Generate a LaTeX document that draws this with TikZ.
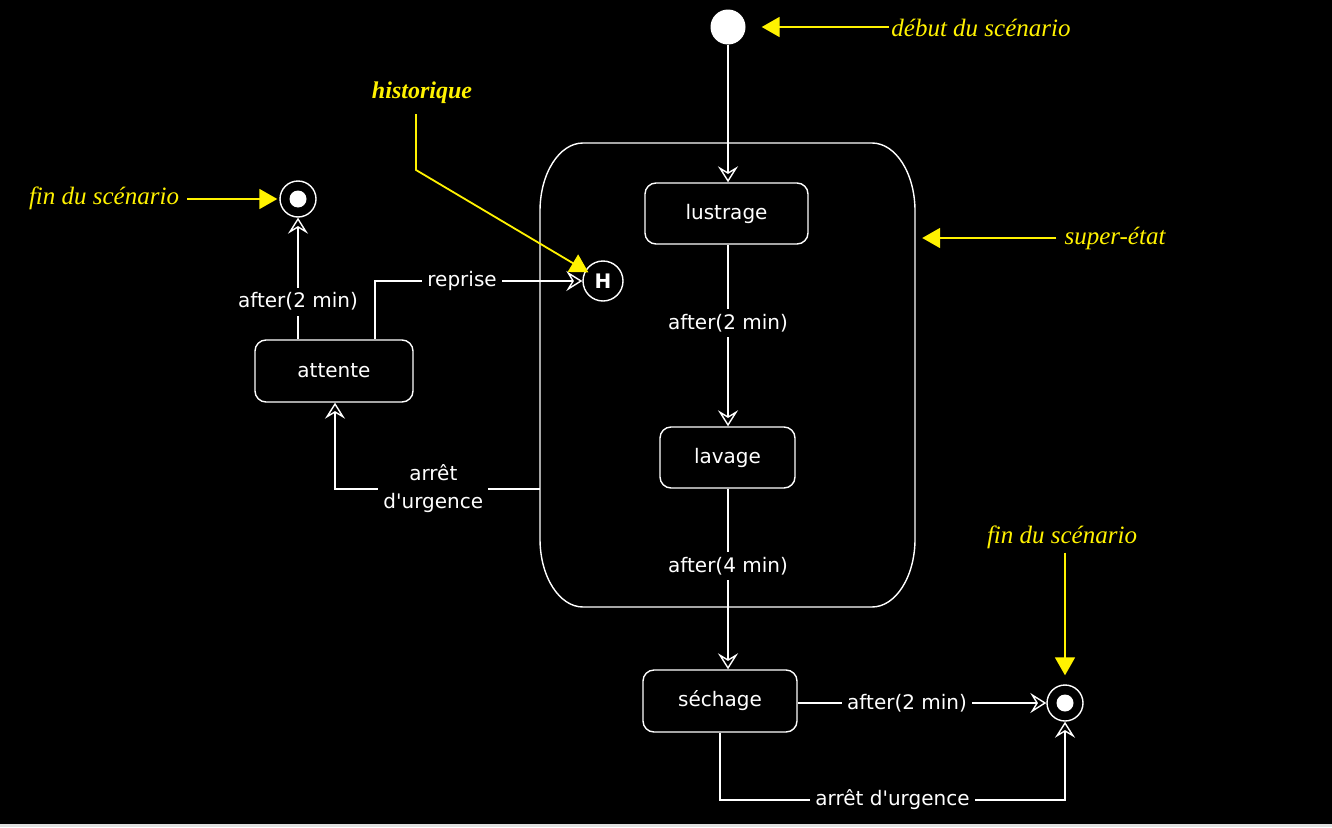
\documentclass[tikz,border=0pt]{standalone}
\usepackage{fontspec}
\newfontfamily\lblfont{DejaVu Sans}
\newfontfamily\notefont{Liberation Serif}
\usetikzlibrary{arrows.meta,calc}
\begin{document}
\begin{tikzpicture}[x=1pt,y=-1pt,
  stbox/.style={draw=white, line width=1.4pt, rounded corners=11pt, text=white,
    font=\lblfont\fontsize{20}{24}\selectfont, inner sep=0pt},
  trans/.style={draw=white, line width=1.4pt,
    -{Stealth[open, length=16pt, width=20pt, inset=6pt, line width=1.4pt]}},
  lbl/.style={fill=black, text=white, font=\lblfont\fontsize{20}{28}\selectfont, inner sep=5pt},
  note/.style={text=yellow, font=\notefont\itshape\fontsize{25}{28}\selectfont, inner sep=2pt},
  ptr/.style={draw=yellow, line width=1.8pt, -{Triangle[length=18pt, width=20pt]}},
  endst/.style={circle, draw=white, line width=1.4pt, minimum size=36pt, inner sep=0pt}
]
\useasboundingbox (0,0) rectangle (1332,827);
\fill[black] (0,0) rectangle (1332,827);
\fill[black!12] (0,824) rectangle (1332,827);

% super-state
\node[minimum width=375pt, minimum height=464pt, inner sep=0pt] (sup) at (727.5,375) {};
\draw[white, line width=1.4pt]
  (583,143) -- (872,143) .. controls (895.7,143) and (915,173.4) .. (915,211)
  -- (915,539) .. controls (915,576.6) and (895.7,607) .. (872,607)
  -- (583,607) .. controls (559.3,607) and (540,576.6) .. (540,539)
  -- (540,211) .. controls (540,173.4) and (559.3,143) .. (583,143) -- cycle;

% states
\node[circle, fill=white, minimum size=35pt, inner sep=0pt] (init) at (728,27) {};
\node[stbox, minimum width=163pt, minimum height=61pt] (lus) at (726.5,213.5) {lustrage};
\node[stbox, minimum width=135pt, minimum height=61pt] (lav) at (727.5,457.5) {lavage};
\node[stbox, minimum width=154pt, minimum height=62pt] (sech) at (720,701) {séchage};
\node[stbox, minimum width=158pt, minimum height=62pt] (att) at (334,371) {attente};
\node[endst] (endL) at (298,199) {};
\fill[white] (endL.center) circle (8.5pt);
\node[endst] (endR) at (1065,703) {};
\fill[white] (endR.center) circle (8.5pt);
\node[circle, draw=white, line width=1.4pt, minimum size=40pt, inner sep=0pt, text=white,
  font=\lblfont\bfseries\fontsize{20}{24}\selectfont] (hist) at (603,281) {H};

% transitions
\draw[trans] (init) -- (init |- lus.north);
\draw[trans] (lus.south -| init) -- node[lbl, pos=0.43] {after(2 min)} (lav.north -| init);
\draw[trans] (lav.south -| init) -- node[lbl, pos=0.43] {after(4 min)} (sech.north -| init);
\draw[trans] (sech.east |- endR) -- node[lbl, pos=0.44] {after(2 min)} (endR.west);
\coordinate (sb) at (720,800);
\draw[trans] (sech.south) -- (sb) -- node[lbl] {arrêt d'urgence} (endR |- sb) -- (endR.south);
\draw[trans] (att.north -| endL) -- node[lbl, pos=0.31] {after(2 min)} (endL.south);
\draw[trans] (att.north -| 375,0) |- node[lbl, pos=0.71] {reprise} (hist.west);
\draw[trans] (sup.west |- 0,489) -| node[lbl, pos=0.26, align=center] {arrêt\\d'urgence} (att.south -| 335,0);

% annotations
\node[note] (nDeb) at (981,28) {début du scénario};
\draw[ptr, shorten >=16pt] (nDeb.west |- init) -- (init.east);
\node[note] (nFinL) at (104,198) {fin du scénario};
\draw[ptr, shorten >=2pt, shorten <=6pt] (nFinL.east |- endL) -- (endL.west);
\node[note] (nSup) at (1115,238) {super-état};
\draw[ptr, shorten >=7pt, shorten <=6pt] (nSup.west) -- (sup.east |- 0,238);
\node[note] (nFinR) at (1062,537) {fin du scénario};
\draw[ptr, shorten >=9pt, shorten <=2pt] (nFinR.south -| endR) -- (endR.north);
\node[note, font=\notefont\bfseries\itshape\fontsize{24}{28}\selectfont] (nHist) at (422,93) {historique};
\coordinate (hk) at (416,170);
\draw[ptr, shorten >=17pt, shorten <=8pt] (nHist.south -| hk) -- (hk) -- (hist.center);
\end{tikzpicture}
\end{document}
